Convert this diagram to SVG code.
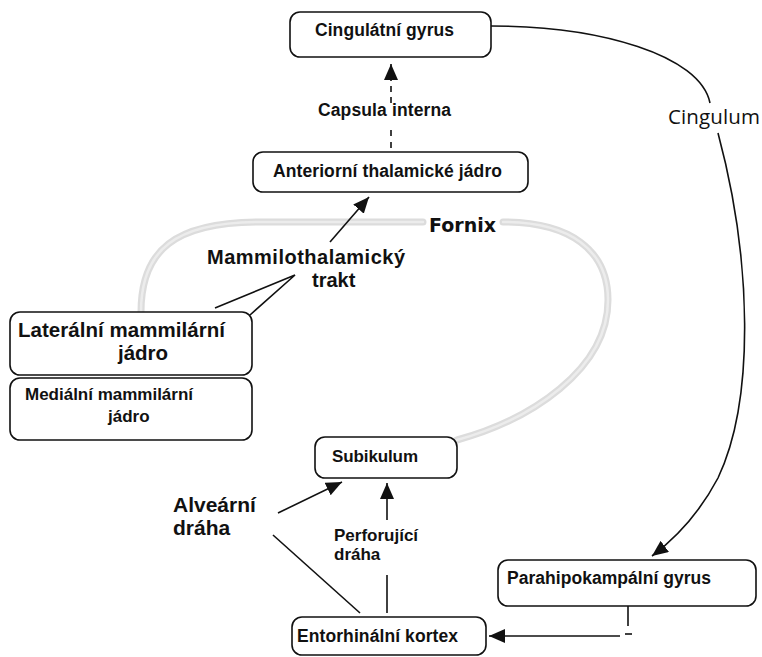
<svg xmlns="http://www.w3.org/2000/svg" width="762" height="657" viewBox="0 0 762 657">
<defs>
<style>
.box{fill:#ffffff;stroke:#111;stroke-width:1.6}
.t{font-family:"Liberation Sans",Arial,sans-serif;font-weight:bold;fill:#111}
.ln{fill:none;stroke:#111;stroke-width:1.6}
.fx{fill:none;stroke:#dcdcdc;stroke-width:7;stroke-linecap:round}
.fxi{fill:none;stroke:#ececec;stroke-width:2.5;stroke-linecap:round}
</style>
<marker id="ah" markerWidth="16" markerHeight="14" refX="16" refY="7" orient="auto" markerUnits="userSpaceOnUse">
<path d="M0,0 L16,7 L0,14 z" fill="#111"/>
</marker>
</defs>
<rect width="762" height="657" fill="#ffffff"/>

<g id="fornix">
<path class="fx" d="M141,312 C141,250 175,222 260,222 L423,222"/>
<path class="fxi" d="M141,312 C141,250 175,222 260,222 L423,222"/>
<path class="fx" d="M503,222 C570,222 608,250 608,300 C608,370 530,420 457,440"/>
<path class="fxi" d="M503,222 C570,222 608,250 608,300 C608,370 530,420 457,440"/>
<text class="t" x="429" y="232" style="font-family:'DejaVu Sans',sans-serif;font-size:19px">Fornix</text>
</g>

<g id="connectors">
<path class="ln" d="M391,148 L391,127" stroke-dasharray="6 6"/>
<path class="ln" d="M391,103 L391,64" stroke-dasharray="6 5" marker-end="url(#ah)"/>
<path class="ln" d="M491,26 C600,26 700,55 710,103"/>
<path class="ln" d="M718,133 C752,260 755,400 718,478 C700,512 676,538 652,556" marker-end="url(#ah)"/>
<path class="ln" d="M330,242 L369,197" marker-end="url(#ah)"/>
<path class="ln" d="M215,308 L295,275 L250,315"/>
<path class="ln" d="M278,513 L342,482" marker-end="url(#ah)"/>
<path class="ln" d="M273,535 L360,613"/>
<path class="ln" d="M387,520 L387,483" marker-end="url(#ah)"/>
<path class="ln" d="M387,575 L387,613"/>
<path class="ln" d="M628,606 L628,626"/>
<path class="ln" d="M625,634 L632,634"/>
<path class="ln" d="M620,636 L489,636" marker-end="url(#ah)"/>
</g>

<g id="cingulatni">
<rect class="box" x="290" y="12" width="201" height="45" rx="10"/>
<text class="t" x="315" y="36" font-size="17.5" textLength="139">Cingulátní gyrus</text>
</g>

<g id="capsula-label">
<text class="t" x="318" y="116" font-size="17.5" textLength="133">Capsula interna</text>
</g>

<g id="cingulum-label">
<text x="668" y="124" style="font-family:'Open Sans','DejaVu Sans',sans-serif;font-size:20.5px;fill:#111" textLength="92">Cingulum</text>
</g>

<g id="anteriorni">
<rect class="box" x="253" y="152" width="275" height="40" rx="10"/>
<text class="t" x="273" y="177" font-size="17.5" textLength="229">Anteriorní thalamické jádro</text>
</g>

<g id="mammilothalamicky-label">
<text class="t" x="207" y="264" font-size="20" textLength="198">Mammilothalamický</text>
<text class="t" x="312" y="287" font-size="20">trakt</text>
</g>

<g id="lateralni">
<rect class="box" x="10" y="312" width="242" height="63" rx="10"/>
<text class="t" x="18" y="337" font-size="20.5" textLength="207">Laterální mammilární</text>
<text class="t" x="118" y="360" font-size="20.5">jádro</text>
</g>

<g id="medialni">
<rect class="box" x="10" y="378" width="242" height="62" rx="10"/>
<text class="t" x="25" y="400" font-size="17" textLength="168">Mediální mammilární</text>
<text class="t" x="108" y="422" font-size="17">jádro</text>
</g>

<g id="subikulum">
<rect class="box" x="315" y="437" width="142" height="41" rx="10"/>
<text class="t" x="332" y="462" font-size="17" textLength="86">Subikulum</text>
</g>

<g id="alvearni-label">
<text class="t" x="173" y="512" font-size="21">Alveární</text>
<text class="t" x="173" y="535" font-size="21">dráha</text>
</g>

<g id="perforujici-label">
<text class="t" x="334" y="541" font-size="17">Perforující</text>
<text class="t" x="334" y="560" font-size="17">dráha</text>
</g>

<g id="parahipokampalni">
<rect class="box" x="498" y="560" width="258" height="46" rx="10"/>
<text class="t" x="507" y="584" font-size="17.5" textLength="204">Parahipokampální gyrus</text>
</g>

<g id="entorhinalni">
<rect class="box" x="292" y="617" width="194" height="38" rx="10"/>
<text class="t" x="297" y="642" font-size="17.5" textLength="161">Entorhinální kortex</text>
</g>
</svg>
